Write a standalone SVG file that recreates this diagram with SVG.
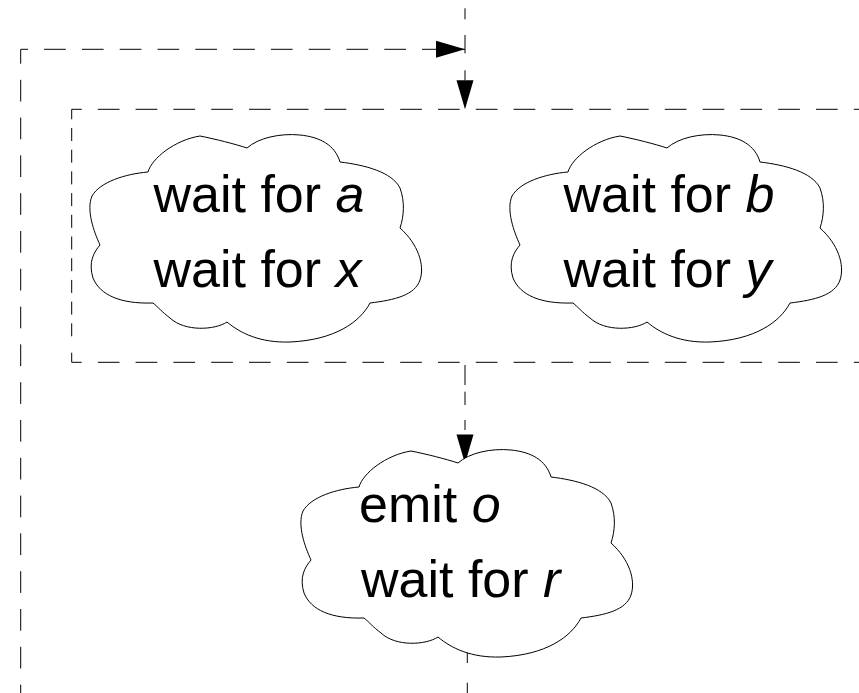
<svg xmlns="http://www.w3.org/2000/svg" xmlns:xlink="http://www.w3.org/1999/xlink" width="859" height="693" viewBox="0 0 859 693">
<style>
.c{fill:#fff;stroke:#000;stroke-width:1;}
.t{font-family:"Liberation Sans",Arial,sans-serif;font-size:52px;fill:#000;}
.i{font-style:italic;}
.d{fill:none;stroke:#000;stroke-width:1;stroke-dasharray:21.7 16.1;}
.s{fill:none;stroke:#000;stroke-width:1;}
</style>
<defs>
<marker id="ah" markerUnits="userSpaceOnUse" markerWidth="30" markerHeight="18" refX="29" refY="8.5" orient="auto" overflow="visible">
<path d="M0,0 L29,8.5 L0,17 Z" fill="#000"/>
</marker>
<path id="cloud" d="M148,172 C152,158 175,140 200,136 C215,139 235,144 247,148 C258,138 280,133 300,135 C320,137 335,145 340,162 C365,165 392,172 400,188 C405,202 404,216 400,228 C418,244 425,265 420,280 C415,295 395,300 370,303 C360,322 335,340 290,342 C260,343 240,333 227,322 C215,330 185,332 170,318 C162,312 158,307 153,303 C120,304 100,295 93,278 C88,262 94,252 100,245 C94,232 86,210 92,196 C100,182 125,174 148,172 Z"/>
</defs>
<g id="connectors">
<path class="d" d="M20.7,693 V49.3 H465" stroke-dashoffset="13.3" marker-end="url(#ah)"/>
<path class="s" d="M465,0 V49.3" stroke-dasharray="0 8.3 11 15.7 30"/>
<path class="s" d="M465,49.3 V109.3" stroke-dasharray="4 17 10 100" marker-end="url(#ah)"/>
<path class="s" d="M465,362 V463.5" stroke-dasharray="0 3 20 6.7 13.3 15 10 200" marker-end="url(#ah)"/>
<path class="s" d="M467.3,652 V693" stroke-dasharray="11 19.7 20"/>
</g>
<g id="group-box">
<path class="d" d="M71.7,109.3 H870" stroke-dashoffset="11.7"/>
<path class="d" d="M71.7,362.3 H870" stroke-dashoffset="11.7"/>
<path class="s" d="M71.7,109.3 V345" stroke-dasharray="13 8.7" stroke-dashoffset="3"/>
<path class="s" d="M71.7,352.7 V362.3"/>
</g>
<g id="node-a">
<use xlink:href="#cloud" class="c"/>
<text class="t" x="153.5" y="212">wait for <tspan class="i">a</tspan></text>
<text class="t" x="153.5" y="287">wait for <tspan class="i">x</tspan></text>
</g>
<g id="node-b">
<use xlink:href="#cloud" class="c" transform="translate(420,0)"/>
<text class="t" x="563.5" y="212">wait for <tspan class="i">b</tspan></text>
<text class="t" x="563.5" y="287">wait for <tspan class="i">y</tspan></text>
</g>
<g id="node-o">
<use xlink:href="#cloud" class="c" transform="translate(211,315)"/>
<text class="t" x="359" y="522">emit <tspan class="i">o</tspan></text>
<text class="t" x="361" y="597">wait for <tspan class="i">r</tspan></text>
</g>
</svg>
